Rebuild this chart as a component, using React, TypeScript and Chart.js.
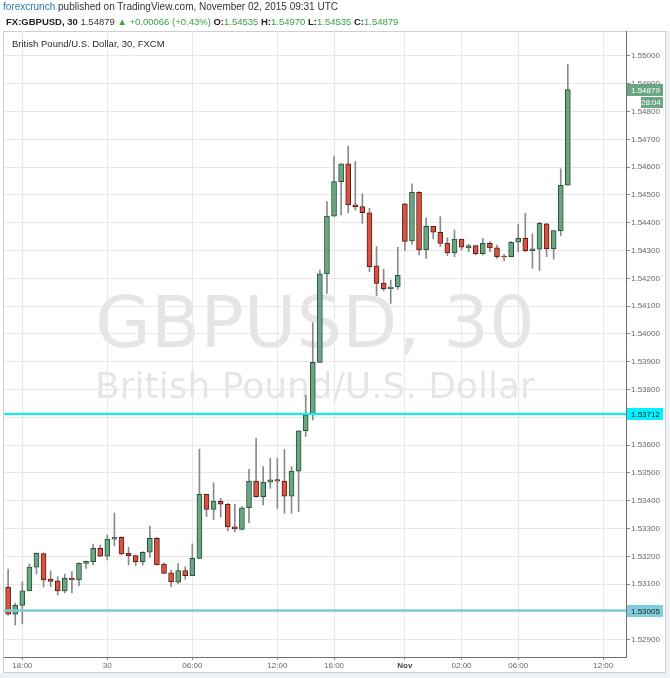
import React, { useEffect, useRef } from "react";
import { Chart, registerables } from "chart.js";

Chart.register(...registerables);

// ---- Data (30-minute GBPUSD candles, index 0 = Oct 29 17:00 UTC) ----
const opens = [
  1.53089, 1.52992, 1.53024, 1.53076, 1.53161, 1.53210, 1.53118, 1.53112, 1.53076, 1.53121,
  1.53115, 1.53175, 1.53181, 1.53229, 1.53201, 1.53262, 1.53269, 1.53211, 1.53203, 1.53181,
  1.53215, 1.53265, 1.53172, 1.53141, 1.53107, 1.53149, 1.53131, 1.53193, 1.53423, 1.53369,
  1.53398, 1.53387, 1.53306, 1.53297, 1.53375, 1.53471, 1.53415, 1.53467, 1.53476, 1.53471,
  1.53417, 1.53507, 1.53652, 1.53712, 1.53898, 1.54216, 1.54424, 1.54548, 1.54612, 1.54465,
  1.54458, 1.54436, 1.54245, 1.54182, 1.54163, 1.54169, 1.54468, 1.54335, 1.54510, 1.54302,
  1.54387, 1.54366, 1.54326, 1.54292, 1.54341, 1.54310, 1.54318, 1.54289, 1.54326, 1.54310,
  1.54278, 1.54278, 1.54330, 1.54344, 1.54300, 1.54305, 1.54396, 1.54307, 1.54372, 1.54535,
];
const highs = [
  1.53154, 1.53032, 1.53109, 1.53173, 1.53213, 1.53213, 1.53148, 1.53127, 1.53136, 1.53145,
  1.53177, 1.53184, 1.53244, 1.53241, 1.53277, 1.53356, 1.53271, 1.53233, 1.53205, 1.53217,
  1.53309, 1.53269, 1.53177, 1.53151, 1.53174, 1.53163, 1.53245, 1.53586, 1.53423, 1.53465,
  1.53409, 1.53391, 1.53387, 1.53379, 1.53513, 1.53625, 1.53523, 1.53553, 1.53553, 1.53585,
  1.53523, 1.53652, 1.53780, 1.54041, 1.54230, 1.54476, 1.54640, 1.54612, 1.54676, 1.54620,
  1.54504, 1.54452, 1.54314, 1.54233, 1.54194, 1.54312, 1.54470, 1.54540, 1.54512, 1.54418,
  1.54387, 1.54422, 1.54346, 1.54374, 1.54341, 1.54323, 1.54318, 1.54344, 1.54332, 1.54320,
  1.54287, 1.54332, 1.54395, 1.54434, 1.54360, 1.54402, 1.54398, 1.54372, 1.54594, 1.54970,
];
const lows = [
  1.52989, 1.52953, 1.52957, 1.53076, 1.53137, 1.53090, 1.53091, 1.53061, 1.53069, 1.53069,
  1.53095, 1.53157, 1.53169, 1.53199, 1.53187, 1.53238, 1.53206, 1.53169, 1.53167, 1.53169,
  1.53197, 1.53169, 1.53139, 1.53091, 1.53103, 1.53118, 1.53131, 1.53191, 1.53343, 1.53333,
  1.53341, 1.53292, 1.53289, 1.53295, 1.53321, 1.53413, 1.53385, 1.53445, 1.53373, 1.53355,
  1.53355, 1.53361, 1.53631, 1.53691, 1.53898, 1.54146, 1.54424, 1.54428, 1.54436, 1.54446,
  1.54398, 1.54224, 1.54138, 1.54155, 1.54110, 1.54161, 1.54300, 1.54323, 1.54284, 1.54272,
  1.54342, 1.54314, 1.54282, 1.54278, 1.54302, 1.54296, 1.54285, 1.54284, 1.54296, 1.54272,
  1.54264, 1.54277, 1.54296, 1.54296, 1.54236, 1.54228, 1.54278, 1.54269, 1.54353, 1.54535,
];
const closes = [
  1.52992, 1.53024, 1.53076, 1.53162, 1.53211, 1.53115, 1.53110, 1.53076, 1.53121, 1.53115,
  1.53175, 1.53182, 1.53229, 1.53201, 1.53262, 1.53269, 1.53209, 1.53203, 1.53181, 1.53215,
  1.53265, 1.53169, 1.53139, 1.53108, 1.53149, 1.53131, 1.53193, 1.53423, 1.53369, 1.53399,
  1.53388, 1.53306, 1.53299, 1.53375, 1.53471, 1.53415, 1.53467, 1.53475, 1.53471, 1.53417,
  1.53507, 1.53652, 1.53709, 1.53898, 1.54216, 1.54424, 1.54548, 1.54612, 1.54464, 1.54458,
  1.54436, 1.54242, 1.54182, 1.54163, 1.54169, 1.54211, 1.54333, 1.54510, 1.54302, 1.54387,
  1.54366, 1.54326, 1.54292, 1.54341, 1.54312, 1.54318, 1.54289, 1.54326, 1.54310, 1.54278,
  1.54277, 1.54330, 1.54344, 1.54300, 1.54306, 1.54398, 1.54307, 1.54372, 1.54535, 1.54879,
];

const xTickIndex = [2, 14, 26, 38, 46, 56, 64, 72, 84];
const xTickLabels = ["18:00", "30", "06:00", "12:00", "16:00", "Nov", "02:00", "06:00", "12:00"];
const yTickValues = [
  1.529, 1.53, 1.531, 1.532, 1.533, 1.534, 1.535, 1.536, 1.537, 1.538, 1.539,
  1.54, 1.541, 1.542, 1.543, 1.544, 1.545, 1.546, 1.547, 1.548, 1.549, 1.55,
];
const levelPrices = [1.53712, 1.53005];
const levelColors = ["#00f2ff", "#7fcddd"];
const lastPrice = 1.54879;
const countdown = "28:04";

const UP_FILL = "#6ba583";
const UP_BORDER = "#225437";
const DOWN_FILL = "#d75442";
const DOWN_BORDER = "#5b1a13";
const WICK = "#8a8a8a";
const GRID = "#e8e8e8";
const FONT = "'Liberation Sans', Arial, sans-serif";

export default function App() {
  const canvasRef = useRef<HTMLCanvasElement | null>(null);

  useEffect(() => {
    document.body.style.margin = "0";
    const canvas = canvasRef.current;
    if (!canvas) return;

    const isUp = closes.map((c, i) => c >= opens[i]);

    const bgPlugin = {
      id: "bgPlugin",
      beforeDraw(chart: any) {
        const ctx = chart.ctx;
        const area = chart.chartArea;
        ctx.save();
        ctx.fillStyle = "#ffffff";
        ctx.fillRect(0, 0, chart.width, chart.height);
        ctx.fillStyle = "#eef1f4";
        ctx.fillRect(0, 673, chart.width, chart.height - 673);
        ctx.fillRect(666, 31, chart.width - 666, 642);
        ctx.strokeStyle = "#cfcfcf";
        ctx.lineWidth = 1;
        ctx.strokeRect(3.5, 31.5, 662, 641);
        // watermark
        const cx = (area.left + area.right) / 2;
        ctx.fillStyle = "rgba(0,0,0,0.1)";
        ctx.textAlign = "center";
        ctx.textBaseline = "alphabetic";
        ctx.font = "72px 'DejaVu Sans', sans-serif";
        ctx.fillText("GBPUSD, 30", cx, 347);
        ctx.font = "36px 'DejaVu Sans', sans-serif";
        ctx.fillText("British Pound/U.S. Dollar", cx, 398);
        ctx.restore();
      },
    };

    const labelPlugin = {
      id: "labelPlugin",
      afterDraw(chart: any) {
        const ctx = chart.ctx;
        const ys = chart.scales.y;
        const x0 = chart.chartArea.right + 1;
        const drawBox = (value: number, bg: string, fg: string) => {
          const y = Math.round(ys.getPixelForValue(value));
          ctx.fillStyle = bg;
          ctx.fillRect(x0, y - 6, 36, 12);
          ctx.fillStyle = fg;
          ctx.font = "8px " + FONT;
          ctx.textAlign = "left";
          ctx.textBaseline = "middle";
          ctx.fillText(value.toFixed(5), x0 + 4, y + 0.5);
          return y;
        };
        ctx.save();
        levelPrices.forEach((p, i) => drawBox(p, levelColors[i], "#222"));
        const ly = drawBox(lastPrice, UP_FILL, "#ffffff");
        ctx.fillStyle = UP_FILL;
        ctx.fillRect(x0 + 14, ly + 7, 22, 11);
        ctx.fillStyle = "#ffffff";
        ctx.textAlign = "right";
        ctx.fillText(countdown, x0 + 34, ly + 13);
        ctx.restore();
      },
    };

    const chart = new Chart(canvas, {
      type: "bar",
      data: {
        datasets: [
          {
            type: "line",
            data: [
              { x: -3, y: levelPrices[0] },
              { x: 95, y: levelPrices[0] },
            ],
            borderColor: levelColors[0],
            borderWidth: 2,
            pointRadius: 0,
            order: 1,
          } as any,
          {
            type: "line",
            data: [
              { x: -3, y: levelPrices[1] },
              { x: 95, y: levelPrices[1] },
            ],
            borderColor: levelColors[1],
            borderWidth: 2.5,
            pointRadius: 0,
            order: 1,
          } as any,
          {
            type: "bar",
            data: highs.map((h, i) => ({ x: i, y: [lows[i], h] })),
            backgroundColor: WICK,
            barThickness: 1,
            grouped: false,
            borderWidth: 0,
            order: 3,
          } as any,
          {
            type: "bar",
            data: opens.map((o, i) => ({ x: i, y: [o, closes[i]] })),
            backgroundColor: isUp.map((u) => (u ? UP_FILL : DOWN_FILL)),
            borderColor: isUp.map((u) => (u ? UP_BORDER : DOWN_BORDER)),
            borderWidth: 1,
            borderSkipped: false,
            barThickness: 5,
            minBarLength: 1,
            grouped: false,
            order: 2,
          } as any,
        ],
      },
      options: {
        responsive: false,
        animation: false,
        devicePixelRatio: 1,
        layout: { padding: { left: 4, top: 31, right: 0, bottom: 0 } },
        plugins: { legend: { display: false }, tooltip: { enabled: false } },
        scales: {
          x: {
            type: "linear",
            min: -0.583,
            max: 87.21,
            offset: false,
            grid: { color: GRID, offset: false, drawTicks: true, tickLength: 3, tickColor: "#888" },
            border: { color: "#6f6f6f", width: 1 },
            afterBuildTicks: (scale: any) => {
              scale.ticks = xTickIndex.map((v) => ({ value: v }));
            },
            afterFit: (scale: any) => {
              scale.height = 21;
            },
            ticks: {
              autoSkip: false,
              maxRotation: 0,
              padding: 1,
              color: (c: any) => (c.tick && c.tick.value === 56 ? "#444" : "#666"),
              font: (c: any) => ({
                family: FONT,
                size: 8,
                weight: c.tick && c.tick.value === 56 ? "bold" : "normal",
              }),
              callback: (value: any) => {
                const k = xTickIndex.indexOf(Number(value));
                return k >= 0 ? xTickLabels[k] : "";
              },
            },
          },
          y: {
            type: "linear",
            position: "right",
            min: 1.528381,
            max: 1.550899,
            grid: { color: GRID, drawTicks: true, tickLength: 4, tickColor: "#888" },
            border: { color: "#6f6f6f", width: 1 },
            afterBuildTicks: (scale: any) => {
              scale.ticks = yTickValues.map((v) => ({ value: v }));
            },
            afterFit: (scale: any) => {
              scale.width = 44;
            },
            ticks: {
              autoSkip: false,
              padding: 1,
              color: "#666",
              font: { family: FONT, size: 8 },
              callback: (value: any) => Number(value).toFixed(5),
            },
          },
        },
      } as any,
      plugins: [bgPlugin, labelPlugin],
    });

    return () => chart.destroy();
  }, []);

  const green = { color: "#37a33b" };
  const bold = { fontWeight: "bold" as const, color: "#222" };

  return (
    <div style={{ position: "fixed", left: 0, top: 0, width: 670, height: 678, fontFamily: FONT }}>
      <canvas
        ref={canvasRef}
        width={670}
        height={678}
        style={{ position: "absolute", left: 0, top: 0, width: 670, height: 678 }}
      />
      <div
        style={{
          position: "absolute",
          left: 3,
          top: 1,
          fontSize: 10,
          lineHeight: "12px",
          color: "#333",
          whiteSpace: "nowrap",
        }}
      >
        <span style={{ color: "#2a7ab8" }}>forexcrunch</span> published on TradingView.com, November 02, 2015 09:31 UTC
      </div>
      <div
        style={{
          position: "absolute",
          left: 6,
          top: 16,
          fontSize: 9.5,
          lineHeight: "12px",
          color: "#333",
          whiteSpace: "nowrap",
        }}
      >
        <span style={bold}>FX:GBPUSD, 30</span> 1.54879 <span style={green}>▲</span>{" "}
        <span style={green}>+0.00066 (+0.43%)</span> <span style={bold}>O:</span>
        <span style={green}>1.54535</span> <span style={bold}>H:</span>
        <span style={green}>1.54970</span> <span style={bold}>L:</span>
        <span style={green}>1.54535</span> <span style={bold}>C:</span>
        <span style={green}>1.54879</span>
      </div>
      <div
        style={{
          position: "absolute",
          left: 12,
          top: 38,
          fontSize: 9.5,
          lineHeight: "12px",
          color: "#2b2b2b",
          whiteSpace: "nowrap",
        }}
      >
        British Pound/U.S. Dollar, 30, FXCM
      </div>
    </div>
  );
}
